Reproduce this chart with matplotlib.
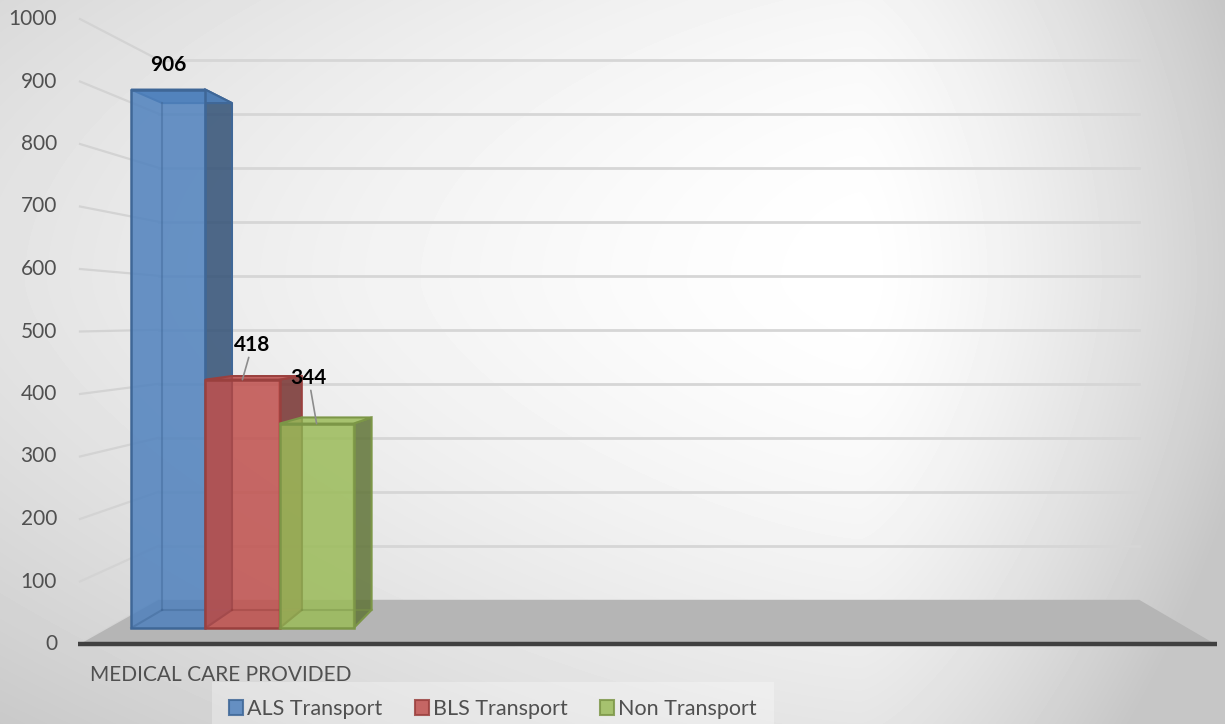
import numpy as np
import matplotlib.pyplot as plt
from matplotlib.patches import Polygon, Patch
from matplotlib.colors import to_rgb

plt.rcParams['font.family'] = ['Lato', 'DejaVu Sans']

# data
category = 'MEDICAL CARE PROVIDED'
series = ['ALS Transport', 'BLS Transport', 'Non Transport']
values = [906, 418, 344]
colors = ['#4F81BD', '#C0504D', '#9BBB59']
yticks = [0, 100, 200, 300, 400, 500, 600, 700, 800, 900, 1000]

# layout of the fake 3d box (front plane units: x in px, y in value units)
W, H = 1225, 724
PX_PER_UNIT = 0.625
BASE_PY = 644
VPX, VPV = 658, 520          # vanishing point
S_FRONT, S_BAR_F, S_BAR_B, S_WALL = 1.0, 0.951, 0.895, 0.864
WALL_X0, WALL_X1 = 80, 1215
BAR_X0, BAR_W = 104, 78
TXT = '#505050'
FS = 15
# data label offsets in pixels (dx, dy) and whether a leader line is drawn
label_off = [(0, 25), (10, 35), (-8, 46)]
leader = [False, True, True]


def proj(x, v, s):
    return (VPX + s * (x - VPX), VPV + s * (v - VPV))


def shade(c, f):
    r, g, b = to_rgb(c)
    return (r * f, g * f, b * f)


fig = plt.figure(figsize=(W / 100, H / 100), dpi=100)
ax = fig.add_axes([0, 0, 1, 1])
ymin, ymax = (BASE_PY - H) / PX_PER_UNIT, BASE_PY / PX_PER_UNIT
ax.set_xlim(0, W)
ax.set_ylim(ymin, ymax)
ax.axis('off')

# background gradient (white spot upper right, grey to the edges)
xx, yy = np.meshgrid(np.arange(W), np.arange(H))
cx, cy = 860, 280
left = np.clip((cx - xx) / cx, 0, 1) ** 1.4 * 28
right = np.clip((xx - cx) / (W - cx), 0, 1) ** 1.4 * 48
down = np.clip((yy - cy) / (H - cy), 0, 1) ** 1.6 * 26
up = np.clip((cy - yy) / cy, 0, 1) ** 2 * 10
bg = np.clip(255 - left - right - down - up, 198, 255)
ax.imshow(bg, cmap='gray', vmin=0, vmax=255, extent=(0, W, ymin, ymax),
          aspect='auto', origin='upper', zorder=0)

# walls: gridlines on side and back wall
for t in yticks:
    p0 = proj(WALL_X0, t, S_FRONT)
    p1 = proj(WALL_X0, t, S_WALL)
    p2 = proj(WALL_X1, t, S_WALL)
    ax.plot([p0[0], p1[0]], [p0[1], p1[1]], color='#d3d3d3', lw=1.6, zorder=1)
    if t > 0:
        ax.plot([p1[0], p2[0]], [p1[1], p2[1]], color='#d6d6d6', lw=2, zorder=1)
    ax.text(p0[0] - 23, t, str(t), ha='right', va='center', fontsize=FS, color=TXT)

# floor
floor = [proj(WALL_X0, 0, S_FRONT), proj(WALL_X1, 0, S_FRONT),
         proj(WALL_X1, 0, S_WALL), proj(WALL_X0, 0, S_WALL)]
ax.add_patch(Polygon(floor, closed=True, facecolor='#b5b5b5', edgecolor='none', zorder=2))
f0, f1 = floor[0], floor[1]
ax.plot([f0[0] - 2, f1[0] + 2], [f0[1], f1[1]], color='#404040', lw=3.2,
        solid_capstyle='butt', zorder=2)

# bars
for i, (h, c) in enumerate(zip(values, colors)):
    z = 3 + i
    x0 = BAR_X0 + i * BAR_W
    x1 = x0 + BAR_W
    edge = shade(c, 0.8)
    front = [proj(x0, 0, S_BAR_F), proj(x1, 0, S_BAR_F), proj(x1, h, S_BAR_F), proj(x0, h, S_BAR_F)]
    right = [proj(x1, 0, S_BAR_F), proj(x1, 0, S_BAR_B), proj(x1, h, S_BAR_B), proj(x1, h, S_BAR_F)]
    top = [proj(x0, h, S_BAR_F), proj(x1, h, S_BAR_F), proj(x1, h, S_BAR_B), proj(x0, h, S_BAR_B)]
    ax.add_patch(Polygon(right, closed=True, facecolor=shade(c, 0.62), alpha=0.85,
                         edgecolor='none', zorder=z))
    ax.add_patch(Polygon(right, closed=True, fill=False, edgecolor=edge, lw=1.5, zorder=z))
    ax.add_patch(Polygon(top, closed=True, facecolor=c, alpha=0.85, edgecolor='none', zorder=z))
    ax.add_patch(Polygon(top, closed=True, fill=False, edgecolor=edge, lw=1.5, zorder=z))
    ax.add_patch(Polygon(front, closed=True, facecolor=c, alpha=0.85, edgecolor='none', zorder=z))
    # hidden edges seen through the transparent front face
    bl = proj(x0, 0, S_BAR_B)
    br = proj(x1, 0, S_BAR_B)
    tl = proj(x0, h, S_BAR_B)
    fl = proj(x0, 0, S_BAR_F)
    for a, b in [(bl, tl), (bl, br), (bl, fl)]:
        ax.plot([a[0], b[0]], [a[1], b[1]], color=edge, lw=1.5, alpha=0.45, zorder=z)
    ax.add_patch(Polygon(front, closed=True, fill=False, edgecolor=edge, lw=1.8, zorder=z))

    # data label
    xc = proj((x0 + x1) / 2, h, S_BAR_F)
    arrow = dict(arrowstyle='-', color='#8c8c8c', lw=1.2, shrinkA=0, shrinkB=0) if leader[i] else None
    ax.annotate(str(h), xy=xc, xytext=label_off[i], textcoords='offset pixels',
                ha='center', va='center', fontsize=FS, fontweight='bold',
                color='black', arrowprops=arrow, zorder=10)

# category label, centred under the group on the front edge
cx_cat = proj(BAR_X0 + len(values) * BAR_W / 2, 0, S_FRONT)[0]
ax.annotate(category, xy=(cx_cat, 0), xytext=(0, -31), textcoords='offset pixels',
            ha='center', va='center', fontsize=FS, color=TXT)

# legend
handles = [Patch(facecolor=c, alpha=0.85, edgecolor=shade(c, 0.8), lw=1.5) for c in colors]
leg = fig.legend(handles, series, loc='center', bbox_to_anchor=(493 / W, 1 - 709 / H),
                 ncol=3, fontsize=15.5, handlelength=0.65, handleheight=0.65,
                 handletextpad=0.2, columnspacing=1.5, borderpad=0.8,
                 frameon=True, fancybox=False, facecolor='white', framealpha=0.3,
                 edgecolor='none', labelcolor=TXT)

fig.savefig('out.png', dpi=100)
